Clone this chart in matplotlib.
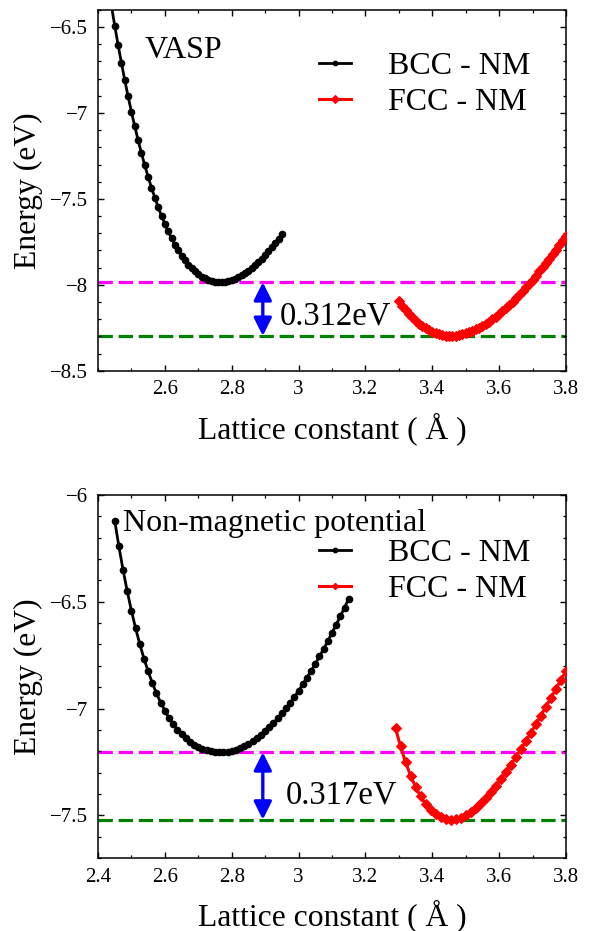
import numpy as np
import matplotlib.pyplot as plt

plt.rcParams['font.family'] = ['Liberation Serif', 'DejaVu Sans']
plt.rcParams['mathtext.fontset'] = 'stix'

# ---- VASP (top panel) ----
vasp_bcc_a = np.round(np.arange(2.42, 2.951, 0.01), 3)
vasp_bcc_e = [-6.122, -6.252, -6.374, -6.491, -6.602, -6.707, -6.808, -6.903, -6.993, -7.078,
              -7.158, -7.234, -7.305, -7.372, -7.434, -7.493, -7.547, -7.598, -7.645, -7.689,
              -7.729, -7.766, -7.800, -7.830, -7.857, -7.882, -7.903, -7.922, -7.938, -7.952,
              -7.963, -7.972, -7.978, -7.983, -7.985, -7.985, -7.983, -7.979, -7.973, -7.965,
              -7.956, -7.945, -7.933, -7.918, -7.903, -7.886, -7.867, -7.848, -7.827, -7.804,
              -7.781, -7.757, -7.731, -7.704]
vasp_fcc_a = np.round(np.arange(3.30, 3.801, 0.01), 3)
vasp_fcc_e = [-8.094, -8.122, -8.147, -8.170, -8.190, -8.209, -8.226, -8.241, -8.254, -8.265,
              -8.274, -8.282, -8.288, -8.292, -8.295, -8.297, -8.297, -8.295, -8.293, -8.289,
              -8.283, -8.277, -8.269, -8.260, -8.250, -8.239, -8.227, -8.214, -8.200, -8.185,
              -8.170, -8.153, -8.136, -8.117, -8.098, -8.079, -8.058, -8.037, -8.015, -7.993,
              -7.970, -7.946, -7.922, -7.898, -7.873, -7.847, -7.821, -7.795, -7.768, -7.740,
              -7.713]

# ---- Non-magnetic potential (bottom panel) ----
pot_bcc_a = np.round(np.arange(2.45, 3.1501, 0.0125), 4)
pot_bcc_e = [-6.120, -6.241, -6.351, -6.451, -6.542, -6.624, -6.698, -6.766, -6.826, -6.880,
             -6.929, -6.972, -7.010, -7.044, -7.073, -7.099, -7.121, -7.140, -7.157, -7.170,
             -7.181, -7.189, -7.196, -7.201, -7.204, -7.205, -7.205, -7.203, -7.199, -7.193,
             -7.186, -7.177, -7.166, -7.154, -7.140, -7.124, -7.107, -7.088, -7.068, -7.046,
             -7.023, -6.999, -6.973, -6.946, -6.917, -6.887, -6.856, -6.824, -6.791, -6.756,
             -6.721, -6.684, -6.646, -6.607, -6.568, -6.527, -6.486]
pot_fcc_a = np.round(np.arange(3.29, 3.8001, 0.015), 3)
pot_fcc_e = [-7.092, -7.177, -7.251, -7.314, -7.367, -7.411, -7.447, -7.474, -7.495, -7.509,
             -7.517, -7.520, -7.518, -7.511, -7.499, -7.484, -7.466, -7.444, -7.420, -7.393,
             -7.363, -7.332, -7.299, -7.264, -7.228, -7.191, -7.152, -7.113, -7.073, -7.033,
             -6.992, -6.950, -6.908, -6.866, -6.824]

gap_labels = ['0.312eV', '0.317eV']
panel_titles = ['VASP', 'Non-magnetic potential']
arrow_x = 2.893


def style_axes(ax, ylim, yticks, xticks):
    ax.set_xlim(2.4, 3.8)
    ax.set_ylim(*ylim)
    ax.set_xticks(xticks)
    ax.set_yticks(yticks)
    ax.set_xticklabels([('%g' % t) for t in xticks])
    ax.set_yticklabels([('%g' % t).replace('-', '\u2212') for t in yticks])
    ax.set_xticks(np.arange(2.4, 3.81, 0.1), minor=True)
    ax.set_yticks(np.arange(ylim[0], ylim[1] + 0.001, 0.1), minor=True)
    ax.tick_params(which='both', direction='in', top=True, right=True, labelsize=15)
    ax.tick_params(which='major', length=4.5, width=1.0, pad=7)
    ax.tick_params(which='minor', length=2.5, width=0.9)
    for s in ax.spines.values():
        s.set_linewidth(1.1)
    ax.set_xlabel('Lattice constant ( Å )', fontsize=22.8, labelpad=9)
    ax.set_ylabel('Energy (eV)', fontsize=22.8, labelpad=5)


fig = plt.figure(figsize=(5.9, 9.31), dpi=100)
ax1 = fig.add_axes([0.1661, 0.6018, 0.7932, 0.3875])
ax2 = fig.add_axes([0.1661, 0.0784, 0.7932, 0.3899])

panels = [
    (ax1, vasp_bcc_a, vasp_bcc_e, vasp_fcc_a, vasp_fcc_e, (-8.5, -6.4),
     [-8.5, -8, -7.5, -7, -6.5], [2.6, 2.8, 3.0, 3.2, 3.4, 3.6, 3.8], 5.6),
    (ax2, pot_bcc_a, pot_bcc_e, pot_fcc_a, pot_fcc_e, (-7.7, -6.0),
     [-7.5, -7, -6.5, -6], [2.4, 2.6, 2.8, 3.0, 3.2, 3.4, 3.6, 3.8], 4.6),
]

for k, (ax, ba, be, fa, fe, ylim, yt, xt, fms) in enumerate(panels):
    e_bcc = min(be)
    e_fcc = min(fe)
    ax.axhline(e_bcc, color='#ff00ff', lw=2.3, dashes=(4.5, 1.8), zorder=1)
    ax.axhline(e_fcc, color='#008000', lw=2.3, dashes=(4.5, 1.8), zorder=1)
    ax.plot(ba, be, '-o', color='black', lw=2.0, ms=4.5, label='BCC - NM', zorder=3)
    ax.plot(fa, fe, '-D', color='red', lw=2.2, ms=fms, mew=0.8, label='FCC - NM', zorder=3)
    ax.annotate('', xy=(arrow_x, e_fcc), xytext=(arrow_x, e_bcc),
                arrowprops=dict(arrowstyle='<|-|>', color='blue', lw=2.4,
                                mutation_scale=27, shrinkA=0, shrinkB=0))
    style_axes(ax, ylim, yt, xt)

ax1.text(0.1, 0.867, panel_titles[0], transform=ax1.transAxes, fontsize=23, va='baseline')
ax1.text(0.389, 0.127, gap_labels[0], transform=ax1.transAxes, fontsize=23.5, va='baseline')
ax2.text(0.054, 0.901, panel_titles[1], transform=ax2.transAxes, fontsize=23, va='baseline')
ax2.text(0.402, 0.151, gap_labels[1], transform=ax2.transAxes, fontsize=23.5, va='baseline')

for ax, y0 in [(ax1, 0.884), (ax2, 0.879)]:
    ax.legend(loc='upper left', bbox_to_anchor=(0.472, y0), frameon=False, fontsize=23,
              handlelength=1.0, handletextpad=1.15, labelspacing=0.2, borderpad=0,
              borderaxespad=0, markerscale=0.7)

fig.savefig('out.png', dpi=100)
